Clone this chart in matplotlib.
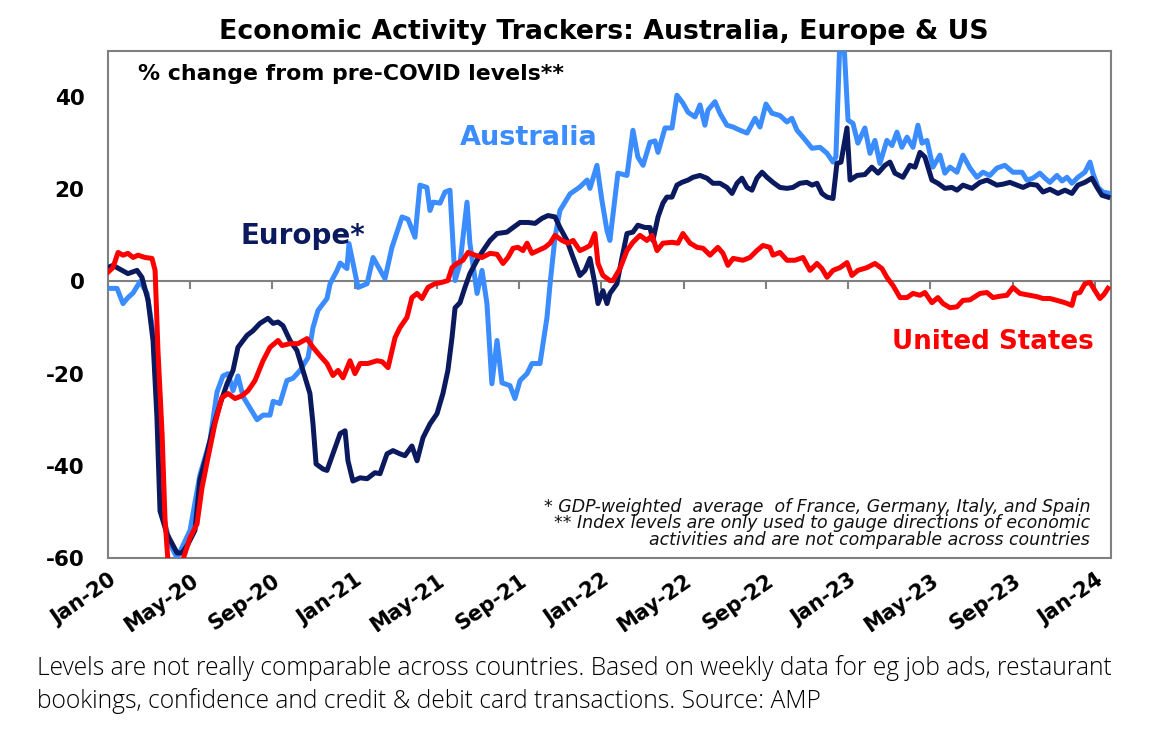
import matplotlib
matplotlib.use("Agg")
import matplotlib.pyplot as plt

# months since Jan-2020 and % change from pre-COVID levels
aus_m = [0.00, 0.44, 0.73, 0.97, 1.22, 1.56, 1.90, 2.19, 2.43, 2.63, 3.02, 3.36, 3.99, 4.47, 4.96,
         5.30, 5.59, 5.84, 6.08, 6.32, 6.57, 7.25, 7.54, 7.88, 8.03, 8.36, 8.70, 9.00, 9.34, 9.73,
         9.97, 10.21, 10.65, 10.80, 11.14, 11.29, 11.62, 11.72, 11.87, 12.16, 12.60, 12.89, 13.47,
         13.81, 14.30, 14.59, 14.93, 15.17, 15.51, 15.66, 15.81, 16.15, 16.39, 16.63, 16.88, 17.12,
         17.46, 17.60, 17.95, 18.19, 18.43, 18.67, 18.92, 19.16, 19.55, 19.79, 20.04, 20.38, 20.62,
         21.01, 21.35, 21.50, 21.74, 21.98, 22.47, 22.95, 23.30, 23.44, 23.78, 24.02, 24.27, 24.41,
         24.80, 25.24, 25.53, 25.77, 26.02, 26.36, 26.60, 26.75, 27.09, 27.43, 27.67, 27.96, 28.21,
         28.55, 28.79, 29.03, 29.18, 29.52, 29.76, 30.10, 30.40, 30.74, 31.08, 31.47, 31.71, 32.00,
         32.29, 32.68, 33.02, 33.26, 33.51, 33.80, 34.24, 34.63, 34.97, 35.26, 35.40, 35.60, 35.79,
         35.99, 36.23, 36.47, 36.81, 37.06, 37.30, 37.54, 37.88, 38.13, 38.37, 38.61, 38.86, 39.15,
         39.39, 39.59, 39.83, 40.12, 40.46, 40.70, 40.95, 41.29, 41.58, 41.92, 42.26, 42.55, 42.89,
         43.23, 43.62, 44.01, 44.45, 44.69, 44.98, 45.32, 45.57, 45.81, 46.15, 46.40, 46.64, 46.88,
         47.17, 47.51, 47.76, 47.90, 48.15, 48.39, 48.73]
aus_v = [-1.5, -1.5, -4.8, -3.5, -2.5, 0.0, -2.6, -11.0, -30.0, -50.0, -57.0, -60.0, -54.0, -42.0, -34.5,
         -24.0, -20.5, -20.0, -23.7, -20.5, -25.0, -30.0, -29.0, -29.0, -26.0, -26.5, -21.5, -21.0, -19.3, -16.5,
         -10.0, -6.3, -3.7, -0.5, 2.4, 4.0, 2.8, 8.2, 5.0, -1.3, -0.5, 5.2, 0.6,
         7.4, 14.0, 13.5, 9.6, 20.9, 20.4, 15.4, 17.2, 17.0, 19.4, 19.8, 0.2, 3.9,
         17.2, 8.3, -2.6, 2.4, -4.8, -22.2, -12.8, -22.0, -22.6, -25.4, -21.5, -20.0, -17.8,
         -17.8, -7.8, -0.5, 9.6, 15.4, 19.0, 20.5, 22.0, 20.2, 25.2, 17.6, 11.0, 8.9,
         23.5, 23.0, 32.8, 27.0, 25.2, 30.2, 30.5, 28.0, 33.3, 33.3, 40.4, 38.7, 36.7,
         35.7, 38.3, 33.9, 37.2, 39.0, 36.5, 33.9, 33.5, 32.8, 32.2, 35.4, 33.5, 38.5,
         36.5, 36.0, 34.6, 35.4, 32.8, 31.3, 28.9, 29.1, 27.8, 25.9, 27.0, 53.0, 52.0,
         35.0, 34.3, 30.0, 33.3, 27.8, 30.6, 25.6, 30.6, 29.5, 32.4, 29.1, 31.3, 29.1,
         33.9, 30.0, 30.6, 24.8, 27.4, 23.5, 24.8, 23.7, 27.4, 24.6, 22.6, 23.7, 23.0,
         24.6, 25.2, 23.7, 23.7, 22.0, 22.4, 23.5, 22.4, 21.5, 23.0, 21.8, 22.6, 21.3,
         22.6, 23.7, 25.9, 23.5, 20.4, 19.4, 19.1]

eur_m = [0.00, 0.24, 0.68, 0.97, 1.41, 1.65, 1.95, 2.19, 2.38, 2.53, 2.87, 3.36, 3.60, 3.89, 4.23,
         4.47, 4.81, 5.11, 5.45, 5.79, 6.08, 6.32, 6.76, 7.05, 7.39, 7.78, 8.03, 8.27, 8.51, 8.85,
         9.19, 9.48, 9.82, 9.97, 10.12, 10.46, 10.65, 10.94, 11.29, 11.53, 11.67, 11.91, 12.26,
         12.60, 12.98, 13.23, 13.57, 13.86, 14.20, 14.44, 14.78, 15.03, 15.32, 15.66, 16.00, 16.29,
         16.53, 16.73, 16.88, 17.12, 17.36, 17.60, 17.95, 18.24, 18.58, 18.92, 19.40, 19.70, 20.04,
         20.43, 20.77, 21.11, 21.40, 21.74, 21.98, 22.32, 22.62, 22.95, 23.20, 23.44, 23.68, 23.83,
         24.07, 24.27, 24.41, 24.75, 25.00, 25.24, 25.53, 25.77, 26.12, 26.36, 26.50, 26.75, 26.99,
         27.18, 27.43, 27.67, 27.91, 28.21, 28.45, 28.79, 29.13, 29.42, 29.76, 30.10, 30.35, 30.59,
         30.83, 31.08, 31.32, 31.56, 31.81, 32.05, 32.34, 32.68, 33.02, 33.31, 33.65, 33.99, 34.24,
         34.48, 34.72, 34.97, 35.26, 35.45, 35.65, 35.94, 36.09, 36.43, 36.81, 37.15, 37.45, 37.79,
         38.03, 38.27, 38.66, 39.00, 39.25, 39.49, 39.73, 40.07, 40.36, 40.70, 41.04, 41.29, 41.58,
         42.02, 42.41, 42.75, 43.23, 43.52, 43.86, 44.21, 44.50, 44.84, 45.18, 45.47, 45.81, 46.20,
         46.54, 46.88, 47.17, 47.51, 47.85, 48.10, 48.34, 48.63]
eur_v = [3.0, 3.5, 2.4, 1.7, 2.4, 0.9, -4.1, -12.8, -29.5, -49.8, -54.8, -58.9, -58.9, -57.0, -54.0,
         -43.0, -37.4, -31.7, -26.6, -22.2, -19.3, -14.3, -11.7, -10.7, -9.1, -8.0, -9.1, -8.8, -9.6, -12.8,
         -15.0, -19.3, -24.3, -30.9, -39.6, -40.7, -41.0, -37.4, -33.0, -32.4, -38.9, -43.3, -42.6,
         -42.8, -41.5, -41.7, -37.4, -36.7, -37.4, -37.8, -35.7, -38.9, -33.9, -30.9, -28.7, -24.3,
         -19.3, -12.2, -5.7, -4.6, -1.3, 1.7, 4.6, 6.7, 8.9, 10.4, 10.7, 11.7, 12.8,
         12.8, 12.6, 13.7, 14.3, 14.0, 11.7, 8.9, 5.2, 1.3, 2.4, 5.0, -0.5, -4.8,
         -2.0, -4.8, -2.6, -0.5, 5.2, 10.4, 10.7, 12.2, 11.7, 11.7, 8.9, 14.0, 17.0,
         18.3, 18.3, 20.9, 21.5, 22.0, 22.6, 23.0, 22.4, 21.3, 21.3, 20.4, 19.1, 21.3,
         22.4, 20.4, 19.8, 22.4, 23.7, 22.6, 21.5, 20.4, 20.2, 20.4, 21.3, 21.5, 20.9,
         21.3, 19.1, 18.3, 18.0, 25.6, 25.9, 33.3, 22.0, 23.0, 23.2, 24.8, 23.5, 25.2,
         25.9, 23.5, 22.6, 25.2, 24.8, 28.0, 27.0, 22.0, 21.3, 20.2, 20.4, 19.8, 20.9,
         20.2, 21.5, 22.0, 20.9, 21.1, 21.5, 20.9, 20.4, 21.1, 20.9, 19.4, 20.0, 19.1,
         19.8, 19.1, 20.9, 21.5, 22.4, 20.4, 18.7, 18.3]

us_m = [0.00, 0.24, 0.49, 0.73, 0.97, 1.22, 1.46, 1.80, 2.14, 2.29, 2.43, 2.63, 2.77, 2.92, 3.26,
        3.60, 3.99, 4.33, 4.57, 4.86, 5.20, 5.54, 5.84, 6.18, 6.52, 6.81, 7.15, 7.54, 7.88, 8.27,
        8.46, 8.85, 9.24, 9.68, 9.97, 10.31, 10.65, 10.94, 11.19, 11.43, 11.77, 12.01, 12.26, 12.64,
        13.08, 13.33, 13.62, 13.96, 14.20, 14.54, 14.78, 15.03, 15.27, 15.56, 15.90, 16.24, 16.53,
        16.73, 16.97, 17.26, 17.51, 17.85, 18.19, 18.58, 18.92, 19.21, 19.45, 19.70, 19.94, 20.18,
        20.38, 20.62, 20.91, 21.25, 21.50, 21.74, 22.08, 22.37, 22.62, 22.95, 23.20, 23.44, 23.68,
        23.83, 24.07, 24.41, 24.56, 24.90, 25.24, 25.53, 25.87, 26.21, 26.46, 26.70, 26.99, 27.43,
        27.72, 27.96, 28.31, 28.65, 28.94, 29.28, 29.66, 29.91, 30.15, 30.40, 30.88, 31.22, 31.56,
        31.85, 32.19, 32.34, 32.68, 33.02, 33.41, 33.80, 34.14, 34.48, 34.72, 34.97, 35.26, 35.60,
        35.94, 36.18, 36.47, 36.91, 37.30, 37.64, 37.88, 38.18, 38.52, 38.86, 39.15, 39.49, 39.73,
        40.07, 40.36, 40.61, 40.95, 41.29, 41.58, 41.92, 42.41, 42.75, 43.04, 43.38, 43.72, 44.01,
        44.35, 44.84, 45.18, 45.47, 45.81, 46.15, 46.54, 46.88, 47.03, 47.27, 47.51, 47.76, 48.00,
        48.24, 48.44, 48.63]
us_v = [2.0, 3.0, 6.3, 5.7, 6.1, 5.2, 5.7, 5.2, 5.0, 2.4, -15.0, -33.0, -51.3, -61.0, -64.0,
        -61.0, -55.6, -52.6, -44.8, -38.3, -30.9, -25.2, -24.3, -25.4, -24.8, -23.7, -21.5, -17.2, -14.3, -12.8,
        -13.9, -13.5, -13.5, -12.4, -14.3, -16.1, -17.8, -20.4, -19.3, -20.9, -17.2, -20.0, -17.8, -17.8,
        -17.2, -17.4, -18.7, -12.2, -10.0, -7.8, -3.5, -2.6, -3.7, -1.3, -0.5, -0.2, 0.2,
        3.0, 3.9, 4.6, 6.3, 5.7, 5.2, 6.1, 5.9, 3.9, 5.2, 7.2, 7.4, 6.7,
        8.3, 6.1, 6.7, 7.4, 8.3, 10.0, 8.9, 8.3, 8.9, 6.7, 7.2, 7.8, 10.4,
        3.9, 1.3, 0.2, 0.2, 2.8, 6.7, 8.5, 10.0, 8.9, 10.0, 6.7, 8.3, 8.5,
        8.3, 10.4, 8.3, 7.4, 7.2, 5.7, 7.4, 6.1, 3.5, 5.0, 4.6, 5.2, 6.7,
        7.8, 7.4, 5.7, 6.3, 4.6, 4.6, 5.2, 2.4, 3.9, 2.8, 0.9, 2.4, 3.0,
        4.1, 1.3, 2.4, 3.0, 3.9, 2.8, 0.9, -0.9, -3.5, -3.5, -2.6, -3.0, -2.4,
        -4.6, -3.5, -4.8, -5.7, -5.5, -4.1, -4.0, -2.6, -2.4, -3.5, -3.2, -3.0, -1.3,
        -2.6, -3.0, -3.3, -3.7, -3.7, -4.1, -4.6, -5.2, -2.6, -2.4, -0.5, -0.2, -2.0,
        -3.7, -2.8, -1.5]

tick_months = [0, 4, 8, 12, 16, 20, 24, 28, 32, 36, 40, 44, 48]
tick_labels = ["Jan-20", "May-20", "Sep-20", "Jan-21", "May-21", "Sep-21", "Jan-22",
               "May-22", "Sep-22", "Jan-23", "May-23", "Sep-23", "Jan-24"]
y_ticks = [-60, -40, -20, 0, 20, 40]

footnote = ["* GDP-weighted  average  of France, Germany, Italy, and Spain",
            "** Index levels are only used to gauge directions of economic",
            "activities and are not comparable across countries"]
caption = ["Levels are not really comparable across countries. Based on weekly data for eg job ads, restaurant",
           "bookings, confidence and credit & debit card transactions. Source: AMP"]

c_aus = "#3A8CFF"
c_eur = "#0B1A5E"
c_us = "#FF0000"
grey = "#808080"

fig = plt.figure(figsize=(11.61, 7.46), dpi=100)
ax = fig.add_axes([108 / 1161, 1 - 558 / 746, (1111 - 108) / 1161, (558 - 51) / 746])

ax.plot(aus_m, aus_v, color=c_aus, lw=3.6, zorder=3)
ax.plot(eur_m, eur_v, color=c_eur, lw=3.6, zorder=4)
ax.plot(us_m, us_v, color=c_us, lw=3.6, zorder=5)

ymin, ymax = -60, 50
ax.set_xlim(0, 48.78)
ax.set_ylim(ymin, ymax)
ax.axhline(0, color=grey, lw=1.5, zorder=2)

for s in ax.spines.values():
    s.set_color(grey)
    s.set_linewidth(1.5)

ax.set_yticks(y_ticks)
ax.set_yticklabels([str(t) for t in y_ticks], fontsize=15.5, fontweight="bold")
ax.tick_params(axis="y", length=0, pad=17)

ax.set_xticks(tick_months)
ax.set_xticklabels(tick_labels, fontsize=15, fontweight="bold",
                   rotation=35, ha="right", va="top", rotation_mode="anchor")
ax.tick_params(axis="x", length=0, pad=9)

# tick marks sit on the zero line
sec = ax.secondary_xaxis((0 - ymin) / (ymax - ymin))
sec.set_xticks(tick_months)
sec.set_xticklabels([])
sec.xaxis.set_ticks_position("bottom")
sec.tick_params(axis="x", direction="out", length=6, width=1.5, color=grey)
for s in sec.spines.values():
    s.set_visible(False)

fig.text(604 / 1161, 1 - 32 / 746, "Economic Activity Trackers: Australia, Europe & US",
         ha="center", va="center", fontsize=19.3, fontweight="bold")
fig.text(138 / 1161, 1 - 74 / 746, "% change from pre-COVID levels**",
         ha="left", va="center", fontsize=15.8, fontweight="bold")
fig.text(529 / 1161, 1 - 138 / 746, "Australia", color=c_aus,
         ha="center", va="center", fontsize=19.5, fontweight="bold")
fig.text(303 / 1161, 1 - 236 / 746, "Europe*", color=c_eur,
         ha="center", va="center", fontsize=20, fontweight="bold")
fig.text(993 / 1161, 1 - 342 / 746, "United States", color=c_us,
         ha="center", va="center", fontsize=18.8, fontweight="bold")

for i, line in enumerate(footnote):
    fig.text(1090 / 1161, 1 - (512 + 16.5 * i) / 746, line, ha="right", va="baseline",
             fontsize=12.5, fontstyle="italic", color="#111111")

for i, line in enumerate(caption):
    fig.text(37 / 1161, 1 - (675 + 33 * i) / 746, line, ha="left", va="baseline",
             fontsize=17.7, family=["Open Sans", "DejaVu Sans"], fontweight="light", color="#000000")

fig.savefig("out.png", dpi=100)
